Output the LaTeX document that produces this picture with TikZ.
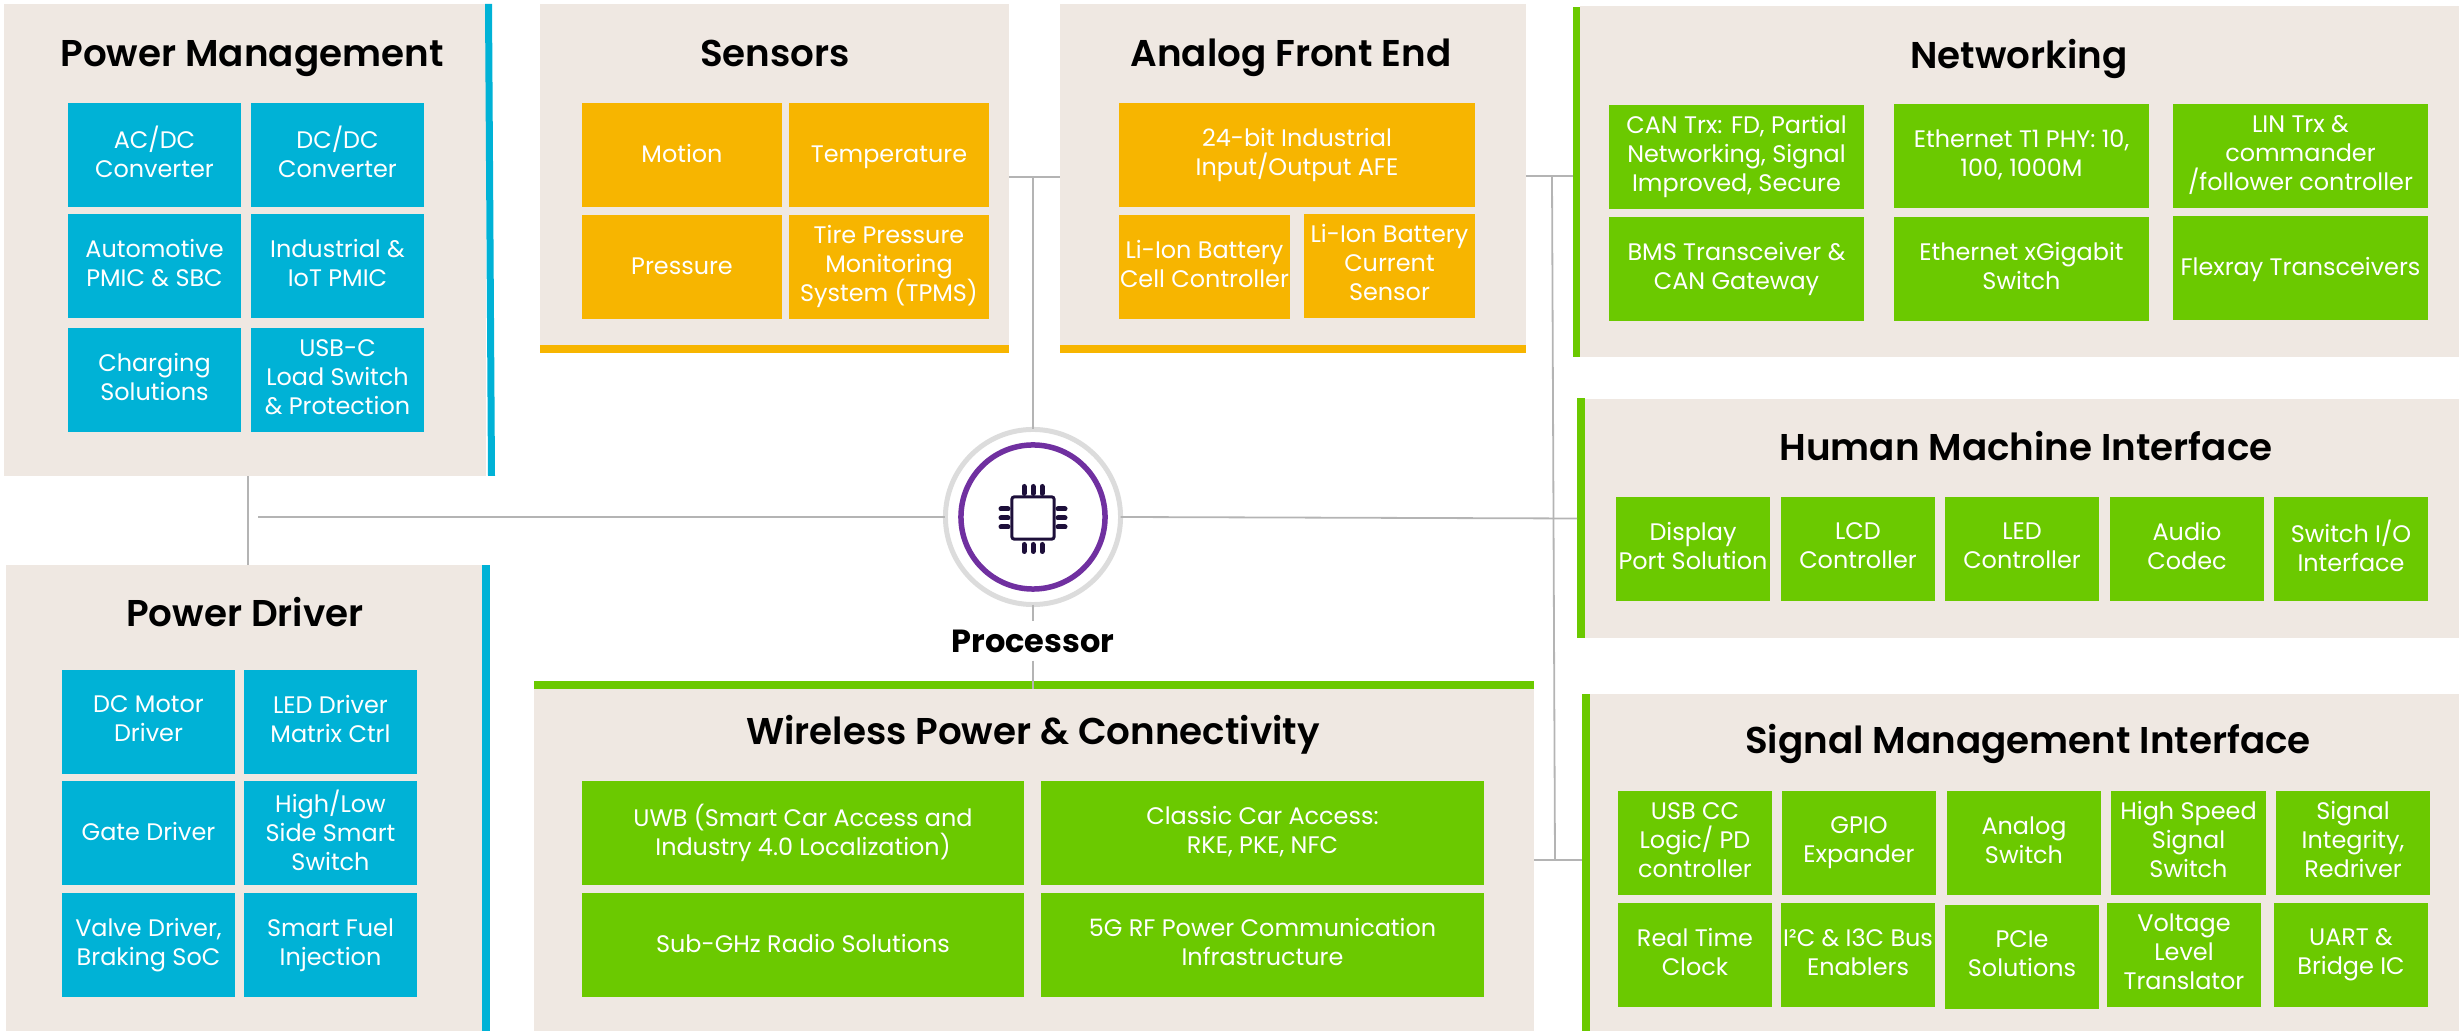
\documentclass[tikz,border=0pt]{standalone}
\usepackage{fontspec}
\usepackage{xcolor}
\setmainfont{Poppins}[BoldFont={Poppins SemiBold}]
\newfontfamily\procfont{Poppins}[UprightFont={* Bold}]
\definecolor{panelbg}{HTML}{EFE8E2}
\definecolor{skyblue}{HTML}{00B2D6}
\definecolor{amber}{HTML}{F7B500}
\definecolor{leaf}{HTML}{6BC900}
\definecolor{violet}{HTML}{7030A0}
\definecolor{chipink}{HTML}{1D0F3A}
\definecolor{wiregrey}{HTML}{B4B4B4}
\definecolor{ringgrey}{HTML}{DCDCDC}
\tikzset{
  panel/.style={fill=panelbg,inner sep=0pt,outer sep=0pt},
  title/.style={anchor=base,font=\fontsize{10.6}{12}\selectfont\bfseries,text=black,inner sep=0pt},
  block/.style={text=white,inner sep=0pt,outer sep=0pt,align=center,minimum height=1.04cm,font=\fontsize{6.8}{8.25}\selectfont,
    execute at begin node={\rule{0pt}{0.21cm}},execute at end node={\vphantom{Ag}}},
  pmbox/.style={block,fill=skyblue,minimum width=1.73cm},
  sensorbox/.style={block,fill=amber,minimum width=2cm},
  afebox/.style={block,fill=amber,minimum width=1.71cm},
  netbox/.style={block,fill=leaf,minimum width=2.55cm},
  hmibox/.style={block,fill=leaf,minimum width=1.54cm},
  wlbox/.style={block,fill=leaf,minimum width=4.42cm},
  wire/.style={draw=wiregrey,line width=0.018cm},
  pinline/.style={draw=chipink,line width=0.05cm,line cap=round}
}
\begin{document}
\begin{tikzpicture}[x=0.01cm,y=-0.01cm]
\useasboundingbox (0,0) rectangle (2459,1031);
% power management
\node[panel,minimum width=4.82cm,minimum height=4.72cm] (pm) at (245,240) {};
\fill[skyblue] (485,4) -- (492,4) -- (495,476) -- (488,476) -- cycle;
\node[title] (pmtitle) at (252,67) {Power Management};
\node[pmbox] (acdc) at (154.5,155) {AC/DC\\Converter};
\node[pmbox] (dcdc) at (337.5,155) {DC/DC\\Converter};
\node[pmbox] (autopmic) at (154.5,266) {Automotive\\PMIC \& SBC};
\node[pmbox] (indpmic) at (337.5,266) {Industrial \&\\IoT PMIC};
\node[pmbox] (charging) at (154.5,380) {Charging\\Solutions};
\node[pmbox] (usbc) at (337.5,380) {USB-C\\Load Switch\\\& Protection};
% sensors
\node[panel,minimum width=4.69cm,minimum height=3.41cm] (sensors) at (774.5,174.5) {};
\fill[amber] (540,345) rectangle (1009,353);
\node[title] (sensorstitle) at (775,66.5) {Sensors};
\node[sensorbox] (motion) at (682,155) {Motion};
\node[sensorbox] (temp) at (889,155) {Temperature};
\node[sensorbox] (pressure) at (682,267) {Pressure};
\node[sensorbox] (tpms) at (889,267) {Tire Pressure\\Monitoring\\System (TPMS)};
% analog front end
\node[panel,minimum width=4.66cm,minimum height=3.41cm] (afe) at (1293,174.5) {};
\fill[amber] (1060,345) rectangle (1526,353);
\node[title] (afetitle) at (1291,67) {Analog Front End};
\node[afebox,minimum width=3.56cm] (iobox) at (1297,155) {24-bit Industrial\\Input/Output AFE};
\node[afebox] (cellctrl) at (1204.5,267) {Li-Ion Battery\\Cell Controller};
\node[afebox] (cursensor) at (1389.5,266) {Li-Ion Battery\\Current\\Sensor};
% networking
\node[panel,minimum width=8.79cm,minimum height=3.51cm] (net) at (2019.5,181.5) {};
\fill[leaf] (1573,7) rectangle (1580,357);
\node[title] (nettitle) at (2019,68.5) {Networking};
\node[netbox] (cantrx) at (1736.5,157) {CAN Trx: FD, Partial\\Networking, Signal\\Improved, Secure};
\node[netbox] (ethphy) at (2021.5,156) {Ethernet T1 PHY: 10,\\100, 1000M};
\node[netbox] (lintrx) at (2300.5,156) {LIN Trx \&\\commander\\/follower controller};
\node[netbox] (bms) at (1736.5,269) {BMS Transceiver \&\\CAN Gateway};
\node[netbox] (ethswitch) at (2021.5,269) {Ethernet xGigabit\\Switch};
\node[netbox] (flexray) at (2300.5,268) {Flexray Transceivers};
% human machine interface
\node[panel,minimum width=8.74cm,minimum height=2.39cm] (hmi) at (2022,518.5) {};
\fill[leaf] (1577,398) rectangle (1585,638);
\node[title] (hmititle) at (2026,460.5) {Human Machine Interface};
\node[hmibox] (dport) at (1693,549) {Display\\Port Solution};
\node[hmibox] (lcd) at (1858,549) {LCD\\Controller};
\node[hmibox] (led) at (2022,549) {LED\\Controller};
\node[hmibox] (audio) at (2187,549) {Audio\\Codec};
\node[hmibox] (swio) at (2351,549) {Switch I/O\\Interface};
% signal management
\node[panel,minimum width=8.69cm,minimum height=3.37cm] (sig) at (2024.5,862.5) {};
\fill[leaf] (1582,694) rectangle (1590,1031);
\node[title] (sigtitle) at (2028,753.5) {Signal Management Interface};
\node[hmibox] (usbcc) at (1695,843) {USB CC\\Logic/ PD\\controller};
\node[hmibox] (gpio) at (1859,843) {GPIO\\Expander};
\node[hmibox] (analog) at (2024,843) {Analog\\Switch};
\node[hmibox] (hsswitch) at (2188.5,843) {High Speed\\Signal\\Switch};
\node[hmibox] (redriver) at (2353,843) {Signal\\Integrity,\\Redriver};
\node[hmibox] (rtc) at (1695,955) {Real Time\\Clock};
\node[hmibox] (i2c) at (1858,955) {I²C \& I3C Bus\\Enablers};
\node[hmibox] (pcie) at (2022,957) {PCIe\\Solutions};
\node[hmibox] (level) at (2184,955) {Voltage\\Level\\Translator};
\node[hmibox] (uart) at (2351,955) {UART \&\\Bridge IC};
% wireless
\node[panel,minimum width=10cm,minimum height=3.42cm] (wl) at (1034,860) {};
\fill[leaf] (534,681) rectangle (1534,689);
\node[title] (wltitle) at (1033,744.5) {Wireless Power \& Connectivity};
\node[wlbox] (uwb) at (803,833) {UWB (Smart Car Access and\\Industry 4.0 Localization)};
\node[wlbox] (classic) at (1262.5,833) {Classic Car Access:\\RKE, PKE, NFC};
\node[wlbox] (subghz) at (803,945) {Sub-GHz Radio Solutions};
\node[wlbox] (fiveg) at (1262.5,945) {5G RF Power Communication\\Infrastructure};
% power driver
\node[panel,minimum width=4.76cm,minimum height=4.66cm] (pd) at (244,798) {};
\fill[skyblue] (482,565) rectangle (490,1031);
\node[title] (pdtitle) at (245,627) {Power Driver};
\node[pmbox] (dcmotor) at (148.5,722) {DC Motor\\Driver};
\node[pmbox] (ledmatrix) at (330.5,722) {LED Driver\\Matrix Ctrl};
\node[pmbox] (gate) at (148.5,833) {Gate Driver};
\node[pmbox] (smartsw) at (330.5,833) {High/Low\\Side Smart\\Switch};
\node[pmbox] (valve) at (148.5,945) {Valve Driver,\\Braking SoC};
\node[pmbox] (fuel) at (330.5,945) {Smart Fuel\\Injection};
% processor
\node[circle,draw=ringgrey,line width=0.05cm,minimum size=1.75cm,inner sep=0pt,outer sep=0pt] (ring) at (1033,517) {};
\node[circle,draw=violet,line width=0.055cm,minimum size=1.44cm,inner sep=0pt] (innerring) at (1033,517) {};
\node[draw=chipink,line width=0.03cm,rounded corners=0.02cm,minimum size=0.42cm,inner sep=0pt] (chip) at (1033,518) {};
\draw[pinline] (1024,486.5) -- (1024,493.5) (1033,486.5) -- (1033,493.5) (1042,486.5) -- (1042,493.5);
\draw[pinline] (1024,544.5) -- (1024,551.5) (1033,544.5) -- (1033,551.5) (1042,544.5) -- (1042,551.5);
\draw[pinline] (1001,509) -- (1008,509) (1001,518) -- (1008,518) (1001,527) -- (1008,527);
\draw[pinline] (1058,509) -- (1065,509) (1058,518) -- (1065,518) (1058,527) -- (1065,527);
\node[font=\fontsize{9.1}{10}\procfont,inner sep=0pt,outer sep=0pt,minimum height=0.39cm] (proc) at (1033,641) {Processor};
% connectors
\coordinate (topjoin) at (1033,177);
\coordinate (netjoin) at (1552,176);
\coordinate (sigjoin) at (1555,860);
\coordinate (leftstub) at (258,517);
\draw[wire] (pm.south -| 248,0) -- (pd.north -| 248,0);
\draw[wire] (leftstub) -- (ring.west);
\draw[wire] (ring.east) -- (hmi.west -| 1577,0);
\draw[wire] (sensors.east |- topjoin) -- (afe.west |- topjoin);
\draw[wire] (topjoin) -- (ring.north);
\draw[wire] (ring.south) -- (proc.north);
\draw[wire] (proc.south) -- (proc.south |- wl.north);
\draw[wire] (afe.east |- netjoin) -- (1573,176);
\draw[wire] (netjoin) -- (sigjoin);
\draw[wire] (wl.east |- sigjoin) -- (1582,860);
\end{tikzpicture}
\end{document}
